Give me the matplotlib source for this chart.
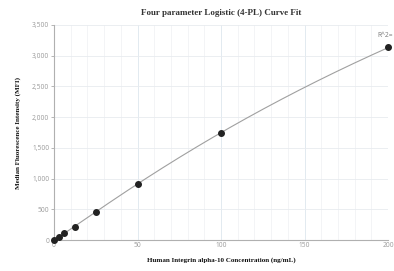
import numpy as np
import matplotlib
matplotlib.use("Agg")
import matplotlib.pyplot as plt
from matplotlib.ticker import FuncFormatter, MultipleLocator

# Data
conc = [0, 3.125, 6.25, 12.5, 25, 50, 100, 200]
mfi = [5, 55, 120, 220, 450, 920, 1750, 3140]

# 4PL fit parameters (bottom, slope, EC50, top)
fit_a, fit_b, fit_c, fit_d = 0.0, 1.05, 538.0, 11980.0

title = "Four parameter Logistic (4-PL) Curve Fit"
xlabel = "Human Integrin alpha-10 Concentration (ng/mL)"
ylabel = "Median Fluorescence Intensity (MFI)"
xticks = [0, 50, 100, 150, 200]
yticks = [0, 500, 1000, 1500, 2000, 2500, 3000, 3500]

fig = plt.figure(figsize=(3.94, 2.71), dpi=100)
ax = fig.add_axes([0.137, 0.114, 0.848, 0.794])

xs = np.linspace(0, 200, 400)
ys = fit_d + (fit_a - fit_d) / (1 + (xs / fit_c) ** fit_b)
ax.plot(xs, ys, color="#a0a0a0", lw=0.8, zorder=2)
ax.plot(conc, mfi, 'o', color="#222222", ms=4.0, zorder=3, clip_on=False)

ax.set_xlim(0, 200)
ax.set_ylim(0, 3500)
ax.set_xticks(xticks)
ax.set_yticks(yticks)
ax.xaxis.set_minor_locator(MultipleLocator(10))
ax.yaxis.set_major_formatter(FuncFormatter(lambda v, p: f"{int(v):,}"))

ax.grid(which="major", axis="x", color="#dde6ee", lw=0.6)
ax.grid(which="minor", axis="x", color="#eef0f3", lw=0.5)
ax.grid(which="major", axis="y", color="#e8ebef", lw=0.6)
ax.set_axisbelow(True)

for s in ["top", "right"]:
    ax.spines[s].set_visible(False)
for s in ["left", "bottom"]:
    ax.spines[s].set_color("#b0b0b0")
    ax.spines[s].set_linewidth(0.8)

ax.tick_params(axis="both", which="major", labelsize=4.8, colors="#999999",
               length=2, width=0.5, pad=1.5)
ax.tick_params(axis="x", which="major", length=0)
ax.tick_params(axis="both", which="minor", length=0)
for lab in ax.get_xticklabels() + ax.get_yticklabels():
    lab.set_fontfamily("Open Sans")

ax.set_title(title, fontsize=6.5, fontweight="bold", family="Liberation Serif",
             color="#333333", pad=7)
ax.set_xlabel(xlabel, fontsize=5.0, fontweight="bold", family="Liberation Serif",
              color="#111111", labelpad=6)
ax.set_ylabel(ylabel, fontsize=5.0, fontweight="bold", family="Liberation Serif",
              color="#111111", labelpad=8)

ax.text(193.4, 3330, "R^2=", fontsize=4.8, color="#777777", family="Open Sans",
        ha="left", va="center", clip_on=False)

fig.savefig("out.png", dpi=100)
